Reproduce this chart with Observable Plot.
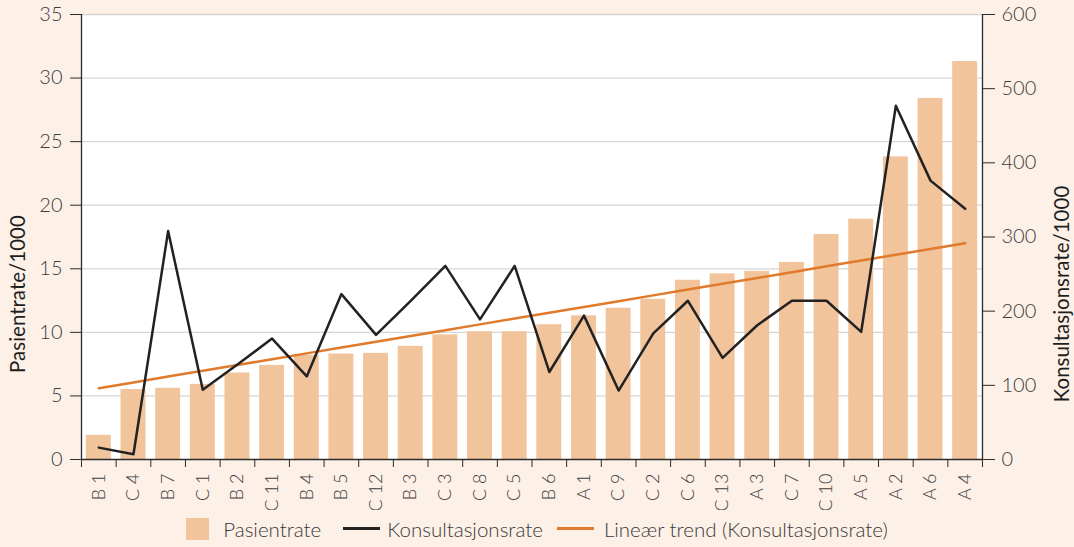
<!DOCTYPE html>
<html><head><meta charset="utf-8">
<script src="https://cdn.jsdelivr.net/npm/d3@7"></script>
<script src="https://cdn.jsdelivr.net/npm/@observablehq/plot@0.6"></script>
<style>
html,body{margin:0;padding:0;background:#fcf0e7;}
#chart{width:1074px;height:547px;font-family:Lato,"Open Sans",sans-serif;}
#chart svg{display:block;background:#fcf0e7;}
.legend{display:flex;justify-content:center;align-items:center;height:37px;font-size:20.5px;color:#3a3a3a;font-weight:300;font-family:Lato,"Open Sans",sans-serif;}
.legend .item{display:flex;align-items:center;}
.legend .sq{width:23px;height:22px;background:#f2c49b;margin-right:14px;}
.legend .ln{width:37px;height:3px;}
</style></head><body><div id="chart"></div><script>
const kategorier = ["B 1","C 4","B 7","C 1","B 2","C 11","B 4","B 5","C 12","B 3","C 3","C 8","C 5","B 6","A 1","C 9","C 2","C 6","C 13","A 3","C 7","C 10","A 5","A 2","A 6","A 4"];
const pasientrate = [1.9,5.5,5.6,5.9,6.8,7.4,8.2,8.3,8.35,8.9,9.8,10.05,10.05,10.6,11.3,11.9,12.6,14.1,14.6,14.8,15.5,17.7,18.9,23.8,28.4,31.3];
const konsultasjonsrate = [16,7,308,94,128,163,112,223,168,214,261,189,261,118,194,93,170,214,137,181,214,214,172,477,376,338];
const venstreTicks = [0,5,10,15,20,25,30,35];
const hoyreTicks = [0,100,200,300,400,500,600];
const venstreMax = 35, hoyreMax = 600;

const W = 1074, H = 510, mL = 81, mR = 92, mT = 14, mB = 51;
const toLeft = v => v * venstreMax / hoyreMax;
const step = (W - mL - mR) / kategorier.length;

const data = kategorier.map((k, i) => ({k, i, p: pasientrate[i], c: konsultasjonsrate[i]}));
// linear trend of konsultasjonsrate (least squares over category index)
const mi = d3.mean(data, d => d.i), mc = d3.mean(data, d => d.c);
const slope = d3.sum(data, d => (d.i - mi) * (d.c - mc)) / d3.sum(data, d => (d.i - mi) ** 2);
const trend = data.map(d => ({k: d.k, t: mc + slope * (d.i - mi)}));

const ink = "#2b2b2b";
const chart = Plot.plot({
  width: W, height: H, marginLeft: mL, marginRight: mR, marginTop: mT, marginBottom: mB,
  style: {fontFamily: "Lato, 'Open Sans', sans-serif", fontWeight: 300, background: "#fcf0e7", color: "#3d3d3d"},
  x: {domain: kategorier, paddingInner: 0.28, paddingOuter: 0.14, round: false, axis: null},
  y: {domain: [0, venstreMax], axis: null},
  marks: [
    Plot.frame({fill: "white", stroke: "none"}),
    Plot.ruleY(venstreTicks.slice(1), {stroke: "#d6d6d6", strokeWidth: 1.3}),
    Plot.barY(data, {x: "k", y: "p", fill: "#f2c49b"}),
    Plot.lineY(trend, {x: "k", y: d => toLeft(d.t), stroke: "#e07a2c", strokeWidth: 2.5}),
    Plot.lineY(data, {x: "k", y: d => toLeft(d.c), stroke: "#222", strokeWidth: 2.5}),
    Plot.ruleY([0], {stroke: ink, strokeWidth: 1.3}),
    Plot.ruleX([kategorier[0]], {dx: -step / 2, stroke: ink, strokeWidth: 1.3}),
    Plot.ruleX([kategorier[kategorier.length - 1]], {dx: step / 2, stroke: ink, strokeWidth: 1.3}),
    Plot.axisY({anchor: "left", ticks: venstreTicks, tickSize: 11, tickPadding: 8, fontSize: 20, label: null, stroke: ink, fill: "#3d3d3d"}),
    Plot.axisY({anchor: "right", ticks: hoyreTicks.map(toLeft), tickFormat: d => Math.round(d * hoyreMax / venstreMax), tickSize: 12, tickPadding: 7, fontSize: 20, label: null, stroke: ink, fill: "#3d3d3d"}),
    Plot.axisX({tickSize: 8, tickFormat: () => "", dx: -step / 2, label: null, stroke: ink}),
    Plot.axisX({ticks: [kategorier[kategorier.length - 1]], tickSize: 8, tickFormat: () => "", dx: step / 2, label: null, stroke: ink}),
    Plot.axisX({tickSize: 0, tickRotate: -90, tickPadding: 14, fontSize: 18, label: null, fill: "#3d3d3d"}),
    Plot.text(["Pasientrate/1000"], {frameAnchor: "left", textAnchor: "middle", dx: -63, dy: 57, rotate: -90, fontSize: 20.5, fill: "#1e1e1e", fontWeight: 400}),
    Plot.text(["Konsultasjonsrate/1000"], {frameAnchor: "right", textAnchor: "middle", dx: 80, dy: 57, rotate: -90, fontSize: 20.5, fill: "#1e1e1e", fontWeight: 400})
  ]
});
const root = document.getElementById("chart");
root.appendChild(chart);
const legend = document.createElement("div");
legend.className = "legend";
legend.innerHTML = `
  <div class="item"><div class="sq"></div><span>Pasientrate</span></div>
  <div class="item" style="margin-left:22px"><div class="ln" style="background:#222;margin-right:7px"></div><span>Konsultasjonsrate</span></div>
  <div class="item" style="margin-left:14px"><div class="ln" style="background:#e07a2c;margin-right:10px"></div><span>Lineær trend (Konsultasjonsrate)</span></div>`;
root.appendChild(legend);
</script></body></html>
